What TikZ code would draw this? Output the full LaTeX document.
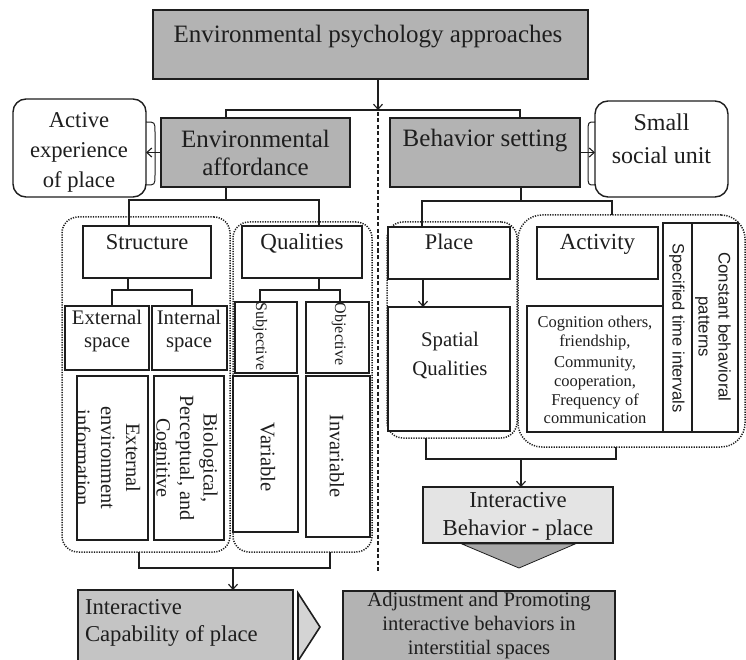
\documentclass[tikz,border=0pt]{standalone}
\usepackage{fontspec}
\setmainfont{Liberation Serif}
\newfontfamily\arialf{Liberation Sans}
\usetikzlibrary{arrows.meta,calc}
\newcommand{\fsz}[2]{\fontsize{#1pt}{#2pt}\selectfont}
\newcommand{\mkbox}[6][]{\node[#1, minimum width={(#5)-(#3)}, minimum height={(#6)-(#4)}] (#2) at ({((#3)+(#5))/2},{((#4)+(#6))/2}) {};}
\definecolor{gA}{HTML}{B3B3B3}
\definecolor{gB}{HTML}{C4C4C4}
\definecolor{gC}{HTML}{E4E4E4}
\definecolor{gD}{HTML}{A8A8A8}
\definecolor{gE}{HTML}{D4D4D4}
\definecolor{ink}{HTML}{1E1E1E}
\begin{document}
\begin{tikzpicture}[x=1pt,y=-1pt,
  box/.style={draw=ink, line width=1.8pt, fill=white, inner sep=0pt, outer sep=0pt},
  gbox/.style={box, fill=gA},
  rbox/.style={box, line width=1.4pt, rounded corners=13pt},
  grp/.style={draw=ink, line width=1.5pt, dash pattern=on 1.2pt off 1.3pt, rounded corners=16pt, inner sep=0pt, outer sep=0pt},
  conn/.style={draw=ink, line width=1.1pt},
  arr/.style={conn, -{Straight Barb[length=5pt,width=9pt]}},
  brk/.style={draw=ink, line width=1pt},
  t/.style={inner sep=0pt, outer sep=0pt, align=center, text=ink},
]
\useasboundingbox (0,0) rectangle (746,660);
\clip (0,0) rectangle (746,660);
\fill[white] (0,0) rectangle (746,660);

% dotted groups
\mkbox[grp]{gStruct}{62}{217}{230}{552}
\mkbox[grp]{gQual}{233}{222}{372}{552}
\mkbox[grp]{gPlace}{387}{222}{517}{438}
\mkbox[grp, rounded corners=24pt]{gAct}{518}{215}{745}{447}

% divider
\coordinate (kDivA) at (378,112);
\coordinate (kDivB) at (378,573);
\draw[draw=ink, line width=1.6pt, dash pattern=on 4pt off 2.5pt] (kDivA) -- (kDivB);

% boxes
\mkbox[gbox]{top}{153}{10}{588}{79}
\mkbox[gbox]{envaff}{161}{118}{350}{187}
\mkbox[gbox]{behset}{390}{118}{580}{187}
\mkbox[rbox]{active}{13}{99}{146}{197}
\mkbox[rbox]{small}{595}{101}{728}{197}
\mkbox[box]{structure}{83}{226}{211}{278}
\mkbox[box]{qualities}{242}{226}{362}{278}
\mkbox[box]{extsp}{65}{306}{149}{370}
\mkbox[box]{intsp}{152}{306}{227}{370}
\mkbox[box]{subj}{235}{302}{297}{373}
\mkbox[box]{obj}{306}{302}{369}{373}
\mkbox[box]{extenv}{77}{376}{148}{540}
\mkbox[box]{bio}{154}{376}{224}{540}
\mkbox[box]{var}{233}{376}{298}{532}
\mkbox[box]{invar}{306}{376}{370}{537}
\mkbox[box]{place}{388}{227}{510}{279}
\mkbox[box]{spatial}{388}{307}{510}{431}
\mkbox[box]{activity}{537}{227}{658}{279}
\mkbox[box]{cogn}{527}{306}{663}{432}
\mkbox[box]{spec}{663}{223}{692}{432}
\mkbox[box]{const}{692}{223}{738}{432}
\mkbox[box, fill=gC]{intbeh}{423}{487}{613}{543}
\mkbox[box, fill=gB]{intcap}{78}{590}{293}{690}
\mkbox[box, fill=gA]{adjust}{343}{591}{615}{690}

% chevrons
\draw[draw=ink, line width=0.8pt, fill=gD] (462,544) -- (575,544) -- (519,568) -- cycle;
\draw[draw=ink, line width=1.6pt, fill=gE, line join=miter] (298,593) -- (320,627) -- (298,661) -- cycle;

% brackets
\draw[brk] (146,122) .. controls (155,122) .. (155,132) -- (155,175) .. controls (155,185) .. (146,185);
\draw[brk] (595,122) .. controls (588,122) .. (588,132) -- (588,175) .. controls (588,185) .. (595,185);

% texts
\node[t, anchor=base, font=\fsz{25}{29}] (topT) at (368,43) {Environmental psychology approaches};
\node[t, font=\fsz{25}{28}] (envaffT) at (255.5,152.5) {Environmental\\affordance};
\node[t, anchor=base, font=\fsz{25}{29}] (behsetT) at (485,147) {Behavior setting};
\node[t, font=\fsz{22.6}{30}] (activeT) at (79,152.7) {Active\\experience\\of place};
\node[t, font=\fsz{24}{33}] (smallT) at (661.5,138.3) {Small\\social unit};
\node[t, anchor=base, font=\fsz{22.5}{26}] (structT) at (147,250) {Structure};
\node[t, anchor=base, font=\fsz{23}{26}] (qualT) at (302,250) {Qualities};
\node[t, font=\fsz{20.7}{23}] (extspT) at (107,331.2) {External\\space};
\node[t, font=\fsz{20.7}{23}] (intspT) at (189,331.2) {Internal\\space};
\node[t, rotate=-90, font=\fsz{16}{19}] (subjT) at (260,336.5) {Subjective};
\node[t, rotate=-90, font=\fsz{16}{19}] (objT) at (339,334) {Objective};
\begin{scope}
\clip (78,377) rectangle (147,539);
\node[t, rotate=-90, font=\fsz{20.4}{25}] (extenvT) at (108,458) {External\\environment\\information};
\end{scope}
\begin{scope}
\clip (155,377) rectangle (223,539);
\node[t, rotate=-90, font=\fsz{20.2}{23.5}] (bioT) at (185,458) {Biological,\\Perceptual, and\\Cognitive};
\end{scope}
\node[t, rotate=-90, font=\fsz{20.7}{24}] (varT) at (268,457) {Variable};
\node[t, rotate=-90, font=\fsz{20.5}{24}] (invarT) at (337,456) {Invariable};
\node[t, anchor=base, font=\fsz{22.3}{26}] (placeT) at (449,249) {Place};
\node[t, anchor=base, font=\fsz{23}{26}] (actT) at (597.5,250) {Activity};
\node[t, font=\fsz{20.8}{29}] (spatT) at (450,355.5) {Spatial\\Qualities};
\node[t, font=\fsz{16.5}{18.6}] (cognT) at (595,370) {Cognition others,\\friendship,\\[3pt]Community,\\cooperation,\\Frequency of\\communication};
\node[t, rotate=-90, font=\arialf\fsz{16.5}{20}] (specT) at (677,328) {Specified time intervals};
\node[t, rotate=-90, font=\arialf\fsz{16.8}{20}] (constT) at (713,327) {Constant behavioral\\patterns};
\node[t, font=\fsz{22.8}{28}] (intbehT) at (518,516.7) {Interactive\\Behavior - place};
\node[t, font=\fsz{20.6}{24}] (adjT) at (479,626) {Adjustment and Promoting\\interactive behaviors in\\interstitial spaces};
\node[t, align=left, anchor=west, font=\fsz{22.7}{27}] (intcapT) at (85,623) {Interactive\\Capability of place};

% connectors
\coordinate (kTop) at (378,110);
\coordinate (kEA) at (226,110);
\coordinate (kBS) at (520,110);
\draw[arr] (top.south -| kTop) -- (kTop);
\draw[conn] (envaff.north -| kEA) -- (kEA) -- (kBS) -- (behset.north -| kBS);
\draw[arr] (envaff.west) -- (active.east |- envaff.west);
\draw[arr] (behset.east) -- (small.west |- behset.east);

\coordinate (kEA2) at (226,200);
\coordinate (kStr) at (129,200);
\coordinate (kQual) at (319,200);
\draw[conn] (envaff.south -| kEA2) -- (kEA2);
\draw[conn] (structure.north -| kStr) -- (kStr) -- (kQual) -- (qualities.north -| kQual);

\coordinate (kBS2) at (521,201);
\coordinate (kPl) at (422,201);
\coordinate (kAc) at (612,201);
\draw[conn] (behset.south -| kBS2) -- (kBS2);
\draw[conn] (place.north -| kPl) -- (kPl) -- (kAc) -- (gAct.north -| kAc);

\coordinate (kS) at (128,290);
\coordinate (kE) at (112,290);
\coordinate (kI) at (192,290);
\draw[conn] (structure.south -| kS) -- (kS);
\draw[conn] (extsp.north -| kE) -- (kE) -- (kI) -- (intsp.north -| kI);

\coordinate (kQ) at (319,290);
\coordinate (kSu) at (260,290);
\coordinate (kOb) at (340,290);
\draw[conn] (qualities.south -| kQ) -- (kQ);
\draw[conn] (subj.north -| kSu) -- (kSu) -- (kOb) -- (obj.north -| kOb);

\coordinate (kP) at (423,290);
\draw[arr] (place.south -| kP) -- (spatial.north -| kP);

\coordinate (kL1) at (139,568);
\coordinate (kL2) at (330,568);
\coordinate (kL3) at (233,568);
\draw[conn] (gStruct.south -| kL1) -- (kL1) -- (kL2) -- (gQual.south -| kL2);
\draw[arr] (kL3) -- (intcap.north -| kL3);

\coordinate (kR1) at (426,459);
\coordinate (kR2) at (616,459);
\coordinate (kR3) at (521,459);
\draw[conn] (gPlace.south -| kR1) -- (kR1) -- (kR2) -- (gAct.south -| kR2);
\draw[arr] (kR3) -- (intbeh.north -| kR3);
\end{tikzpicture}
\end{document}
